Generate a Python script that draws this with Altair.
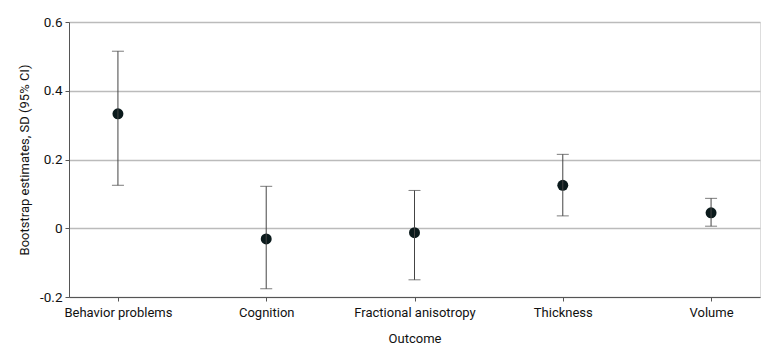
import altair as alt
import pandas as pd

outcomes = ["Behavior problems", "Cognition", "Fractional anisotropy", "Thickness", "Volume"]
estimates = [0.333, -0.031, -0.013, 0.125, 0.045]
lower = [0.125, -0.176, -0.150, 0.036, 0.006]
upper = [0.515, 0.122, 0.110, 0.215, 0.087]

df = pd.DataFrame({"outcome": outcomes, "est": estimates, "lo": lower, "hi": upper})

FONT = "Roboto"

xs = alt.X("outcome:N", sort=outcomes, title="Outcome",
           scale=alt.Scale(type="point", padding=0.33),
           axis=alt.Axis(labelAngle=0, labelFontSize=13, titleFontSize=13, tickSize=4,
                         labelPadding=5, titlePadding=13, grid=False, domainColor="#555", tickColor="#555",
                         labelColor="#111", titleColor="#111", labelFont=FONT, titleFont=FONT,
                         titleFontWeight="normal"))
ys = alt.Y("est:Q", title="Bootstrap estimates, SD (95% CI)",
           scale=alt.Scale(domain=[-0.2, 0.6], nice=False),
           axis=alt.Axis(values=[-0.2, 0, 0.2, 0.4, 0.6], labelFontSize=13.5, titleFontSize=13,
                         tickSize=4, labelPadding=3, titlePadding=8, gridColor="#bbbbbb", gridWidth=1.5,
                         domainColor="#555", tickColor="#555", labelColor="#111", titleColor="#111",
                         labelFont=FONT, titleFont=FONT, titleFontWeight="normal",
                         labelExpr="datum.value == 0 ? '0' : replace(format(datum.value, '.1f'), '\u2212', '-')"))

base = alt.Chart(df)
rules = base.mark_rule(color="#444", strokeWidth=1).encode(
    x=xs, y=alt.Y("lo:Q", scale=alt.Scale(domain=[-0.2, 0.6], nice=False)), y2="hi:Q")
cap_lo = base.mark_tick(color="#444", size=12, thickness=1).encode(x=xs, y=alt.Y("lo:Q"))
cap_hi = base.mark_tick(color="#444", size=12, thickness=1).encode(x=xs, y=alt.Y("hi:Q"))
points = base.mark_point(filled=True, color="#0b1a1c", size=120, opacity=1).encode(x=xs, y=ys)

chart = alt.layer(points, rules, cap_lo, cap_hi).properties(
    width=691, height=275,
    autosize=alt.AutoSizeParams(type="none"),
    padding={"left": 69, "top": 22, "right": 20, "bottom": 56},
).configure_view(stroke=None).configure(background="white")

chart.save("out.html", embed_options={"renderer": "svg", "actions": False})
